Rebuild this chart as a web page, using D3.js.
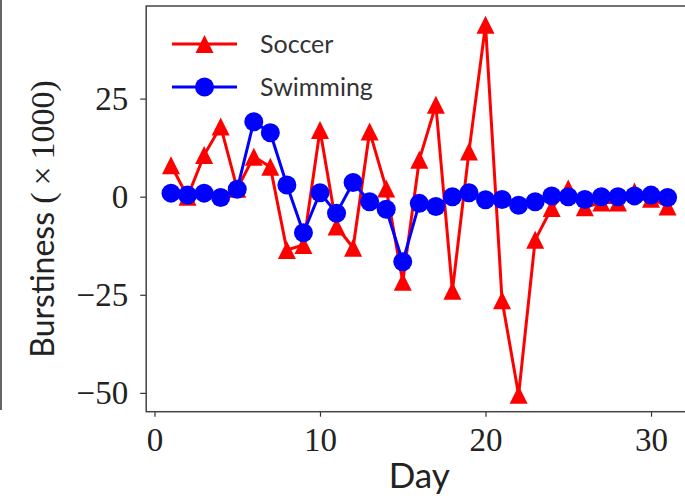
<!DOCTYPE html>
<html lang="en">
<head>
<meta charset="utf-8">
<title>Burstiness per day</title>
<style type="text/css">
  body { margin: 0; background: #fff; }
  svg { display: block; }
  .tick text { font-family: "Liberation Serif", "DejaVu Serif", serif; font-size: 33px; fill: #222; }
</style>
<script src="https://cdnjs.cloudflare.com/ajax/libs/d3/7.8.5/d3.min.js"></script>
</head>
<body>
<div id="chart"></div>
<script>
  // data (burstiness x1000 per day)
  var days = d3.range(1, 32);
  var soccer = [8, 0, 10.6, 17.9, 2, 10.2, 7.6, -13.6, -12.3, 17, -7.6, -13, 16.6, 2.1,
                -21.7, 9.4, 23.4, -24, 11.5, 43.8, -26.4, -50.5, -11, -2.9, 2.1, -2.7,
                -1.5, -1.5, 1.3, -0.5, -2.5];
  var swimming = [0.9, 0.4, 0.9, -0.2, 1.9, 19.1, 16.3, 3, -9.2, 1, -4.2, 3.6, -1.3, -3.2,
                  -16.6, -1.7, -2.5, 0, 1, -0.8, -0.7, -2.2, -1.3, 0.2, 0, -0.7, 0, 0,
                  0.2, 0.4, -0.2];
  var xTicks = [0, 10, 20, 30];
  var yTicks = [-50, -25, 0, 25];
  var seriesNames = ["Soccer", "Swimming"];
  var seriesColors = ["#ff0000", "#0000ff"];

  var w = 685, h = 499;

  var svg = d3.select("#chart").append("svg")
    .attr("width", w)
    .attr("height", h);

  var x = d3.scaleLinear().domain([-0.5, 32.5]).range([146.2, 692.4]);
  var y = d3.scaleLinear().domain([-54.8, 48.6]).range([411.7, 6]);

  // stray frame line at the far left of the crop
  svg.append("line")
    .attr("x1", 1).attr("x2", 1)
    .attr("y1", 0).attr("y2", 410)
    .attr("stroke", "#333")
    .attr("stroke-width", 1.5);

  // axes
  var xAxis = svg.append("g")
    .attr("transform", "translate(0," + y.range()[0] + ")")
    .call(d3.axisBottom(x).tickValues(xTicks).tickSize(5).tickSizeOuter(0).tickPadding(11)
      .tickFormat(d3.format("d")));

  var yAxis = svg.append("g")
    .attr("transform", "translate(" + x.range()[0] + ",0)")
    .call(d3.axisLeft(y).tickValues(yTicks).tickSize(6).tickSizeOuter(0).tickPadding(12)
      .tickFormat(function(d) { return d < 0 ? "\u2212" + Math.abs(d) : d; }));

  [xAxis, yAxis].forEach(function(a) {
    a.select(".domain").remove();
    a.selectAll(".tick line").attr("stroke", "#333").attr("stroke-width", 1.2);
  });

  // frame (top, left, bottom; right edge is beyond the window)
  svg.append("rect")
    .attr("x", x.range()[0])
    .attr("y", y.range()[1])
    .attr("width", x.range()[1] - x.range()[0])
    .attr("height", y.range()[0] - y.range()[1])
    .attr("fill", "none")
    .attr("stroke", "#444")
    .attr("stroke-width", 1.5);

  var line = d3.line()
    .x(function(d, i) { return x(days[i]); })
    .y(function(d) { return y(d); });

  var triangle = "M0,-9L9,9L-9,9Z";

  // soccer
  svg.append("path")
    .datum(soccer)
    .attr("d", line)
    .attr("fill", "none")
    .attr("stroke", seriesColors[0])
    .attr("stroke-width", 3);

  svg.append("g").selectAll("path")
    .data(soccer)
    .enter().append("path")
    .attr("d", triangle)
    .attr("transform", function(d, i) { return "translate(" + x(days[i]) + "," + y(d) + ")"; })
    .attr("fill", seriesColors[0]);

  // swimming
  svg.append("path")
    .datum(swimming)
    .attr("d", line)
    .attr("fill", "none")
    .attr("stroke", seriesColors[1])
    .attr("stroke-width", 3);

  svg.append("g").selectAll("circle")
    .data(swimming)
    .enter().append("circle")
    .attr("cx", function(d, i) { return x(days[i]); })
    .attr("cy", function(d) { return y(d); })
    .attr("r", 9.5)
    .attr("fill", seriesColors[1]);

  // axis labels
  svg.append("text")
    .attr("x", (x.range()[0] + x.range()[1]) / 2)
    .attr("y", 488)
    .attr("text-anchor", "middle")
    .style("font-family", "Lato, sans-serif")
    .style("font-size", "35px")
    .style("fill", "#222")
    .text("Day");

  var ylab = svg.append("text")
    .attr("transform", "translate(54,219) rotate(-90)")
    .attr("text-anchor", "middle")
    .style("fill", "#222");
  ylab.append("tspan")
    .style("font-family", "Lato, sans-serif")
    .style("font-size", "32px")
    .text("Burstiness ");
  ylab.append("tspan")
    .style("font-family", "'Liberation Serif', serif")
    .style("font-size", "34px")
    .text("(\u2009\u00d7\u20091000)");

  // legend
  var legend = svg.append("g");
  seriesNames.forEach(function(name, i) {
    var ly = 44 + i * 43;
    legend.append("line")
      .attr("x1", 172).attr("x2", 237)
      .attr("y1", ly).attr("y2", ly)
      .attr("stroke", seriesColors[i])
      .attr("stroke-width", 3);
    if (i === 0) {
      legend.append("path")
        .attr("d", triangle)
        .attr("transform", "translate(204.5," + ly + ")")
        .attr("fill", seriesColors[i]);
    } else {
      legend.append("circle")
        .attr("cx", 204.5).attr("cy", ly).attr("r", 9.5)
        .attr("fill", seriesColors[i]);
    }
    legend.append("text")
      .attr("x", 260)
      .attr("y", ly)
      .attr("dy", "0.35em")
      .style("font-family", "Lato, sans-serif")
      .style("font-size", "25px")
      .style("fill", "#333")
      .text(name);
  });
</script>
</body>
</html>
